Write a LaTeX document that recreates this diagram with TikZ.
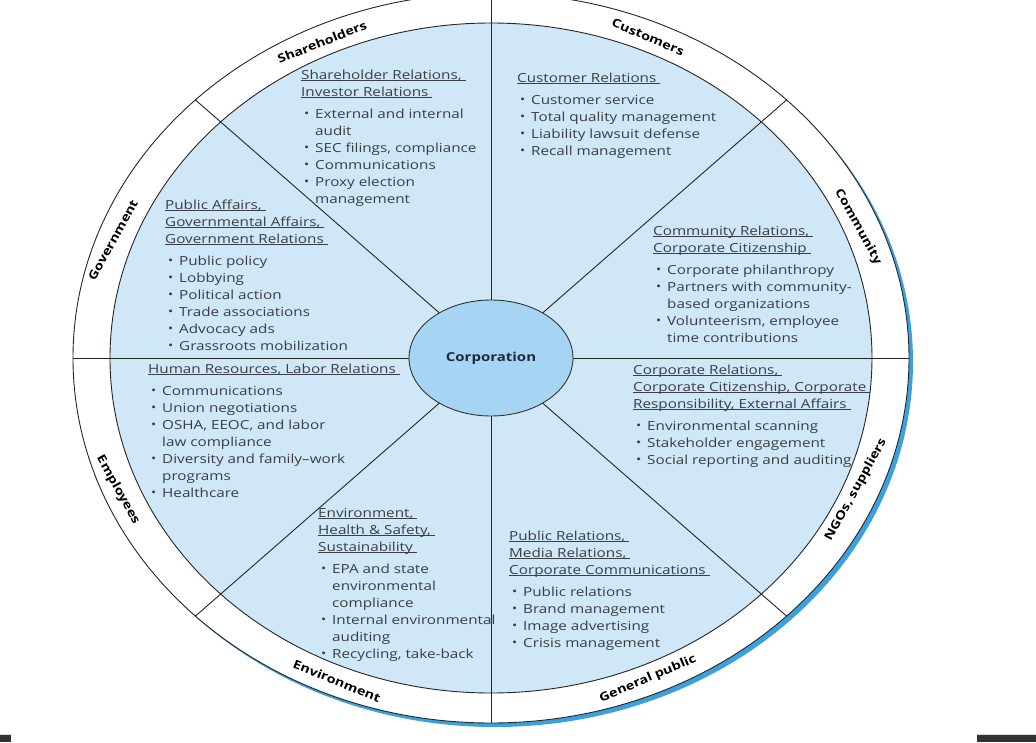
\documentclass[tikz,border=0pt]{standalone}
\usepackage{fontspec}
\setmainfont{Open Sans}[FakeStretch=1.22]
\usepackage{tikz}
\usetikzlibrary{shapes.geometric}
\definecolor{ringblue}{RGB}{207, 231, 247}
\definecolor{corpblue}{RGB}{166, 213, 243}
\definecolor{shadowblue}{RGB}{58, 160, 222}
\definecolor{bodygray}{RGB}{58, 62, 70}
\definecolor{corptext}{RGB}{30, 42, 60}
\definecolor{bardark}{RGB}{50, 50, 50}
\newcommand{\hdline}[1]{\underline{\smash{#1}\hspace{4pt}}}
\newcommand{\itm}{\makebox[14pt][l]{\hspace{3pt}\raisebox{0.4pt}{\scalebox{0.9}{\textbullet}}}}
\newcommand{\cnt}{\hspace*{14pt}}

\begin{document}
\begin{tikzpicture}[x=1pt, y=1pt,
    ring/.style={draw=black!85, line width=0.9pt},
    spoke/.style={draw=black!85, line width=0.9pt},
    block/.style={anchor=north west, align=left, inner sep=0pt, text=bodygray, font=\fontsize{12.5}{17}\selectfont},
    ringlabel/.style={inner sep=0pt, text=black, font=\fontsize{11.8}{13}\selectfont\bfseries},
    corp/.style={ellipse, draw=black!80, line width=0.9pt, fill=corpblue, minimum width=164pt, minimum height=116pt, inner sep=0pt, text=corptext, font=\fontsize{12.3}{15}\selectfont\bfseries}
]
    \useasboundingbox (-491,-384) rectangle (545,358);

    % Rings
    \fill[shadowblue] (4,-4) ellipse [x radius=418, y radius=365];
    \draw[ring, fill=white] (0,0) ellipse [x radius=418, y radius=365];
    \draw[ring, fill=ringblue] (0,0) ellipse [x radius=381, y radius=335];

    % Corporation
    \node[corp] (corp) at (0,0) {Corporation};

    % Spokes
    \foreach \a in {0,45,...,315}
        \coordinate (o\a) at (\a:418 and 365);
    \foreach \a in {0,45,...,315}
        \draw[spoke] (corp) -- (o\a);

    % Stakeholders on the ring
    \node[ringlabel, rotate=22] (lshare) at (-169,316) {Shareholders};
    \node[ringlabel, rotate=-23] (lcust) at (157,321) {Customers};
    \node[ringlabel, rotate=-61] (lcomm) at (367,131) {Community};
    \node[ringlabel, rotate=61] (lngo) at (365,-132) {NGOs, suppliers};
    \node[ringlabel, rotate=23] (lpub) at (157,-321) {General public};
    \node[ringlabel, rotate=-22] (lenv) at (-154,-323) {Environment};
    \node[ringlabel, rotate=-61] (lemp) at (-373,-132) {Employees};
    \node[ringlabel, rotate=61] (lgov) at (-378,118) {Government};

    % Functions
    \node[block] (shr) at (-190,279) {\hdline{Shareholder Relations,}\\ \hdline{Investor Relations}\\[5pt]
        \itm External and internal\\ \cnt audit\\ \itm SEC filings, compliance\\ \itm Communications\\ \itm Proxy election\\ \cnt management};
    \node[block] (cust) at (26,276) {\hdline{Customer Relations}\\[5pt]
        \itm Customer service\\ \itm Total quality management\\ \itm Liability lawsuit defense\\ \itm Recall management};
    \node[block] (gov) at (-326,149) {\hdline{Public Affairs,}\\ \hdline{Governmental Affairs,}\\ \hdline{Government Relations}\\[5pt]
        \itm Public policy\\ \itm Lobbying\\ \itm Political action\\ \itm Trade associations\\ \itm Advocacy ads\\ \itm Grassroots mobilization};
    \node[block] (comm) at (162,123) {\hdline{Community Relations,}\\ \hdline{Corporate Citizenship}\\[5pt]
        \itm Corporate philanthropy\\ \itm Partners with community-\\ \cnt based organizations\\ \itm Volunteerism, employee\\ \cnt time contributions};
    \node[block] (hr) at (-343,-15) {\hdline{Human Resources, Labor Relations}\\[5pt]
        \itm Communications\\ \itm Union negotiations\\ \itm OSHA, EEOC, and labor\\ \cnt law compliance\\ \itm Diversity and family--work\\ \cnt programs\\ \itm Healthcare};
    \node[block] (crel) at (142,-16) {\hdline{Corporate Relations,}\\ \hdline{Corporate Citizenship, Corporate}\\ \hdline{Responsibility, External Affairs}\\[5pt]
        \itm Environmental scanning\\ \itm Stakeholder engagement\\ \itm Social reporting and auditing};
    \node[block] (ehs) at (-173,-159) {\hdline{Environment,}\\ \hdline{Health \& Safety,}\\ \hdline{Sustainability}\\[5pt]
        \itm EPA and state\\ \cnt environmental\\ \cnt compliance\\ \itm Internal environmental\\ \cnt auditing\\ \itm Recycling, take-back};
    \node[block] (pr) at (18,-182) {\hdline{Public Relations,}\\ \hdline{Media Relations,}\\ \hdline{Corporate Communications}\\[5pt]
        \itm Public relations\\ \itm Brand management\\ \itm Image advertising\\ \itm Crisis management};

    % Bars at the bottom edge
    \fill[bardark] (-491,-384) rectangle (-480,-377);
    \fill[black!15] (-491,-377) rectangle (-480,-376);
    \fill[bardark] (486,-384) rectangle (545,-377);
    \fill[black!15] (486,-377) rectangle (545,-376);
\end{tikzpicture}
\end{document}
